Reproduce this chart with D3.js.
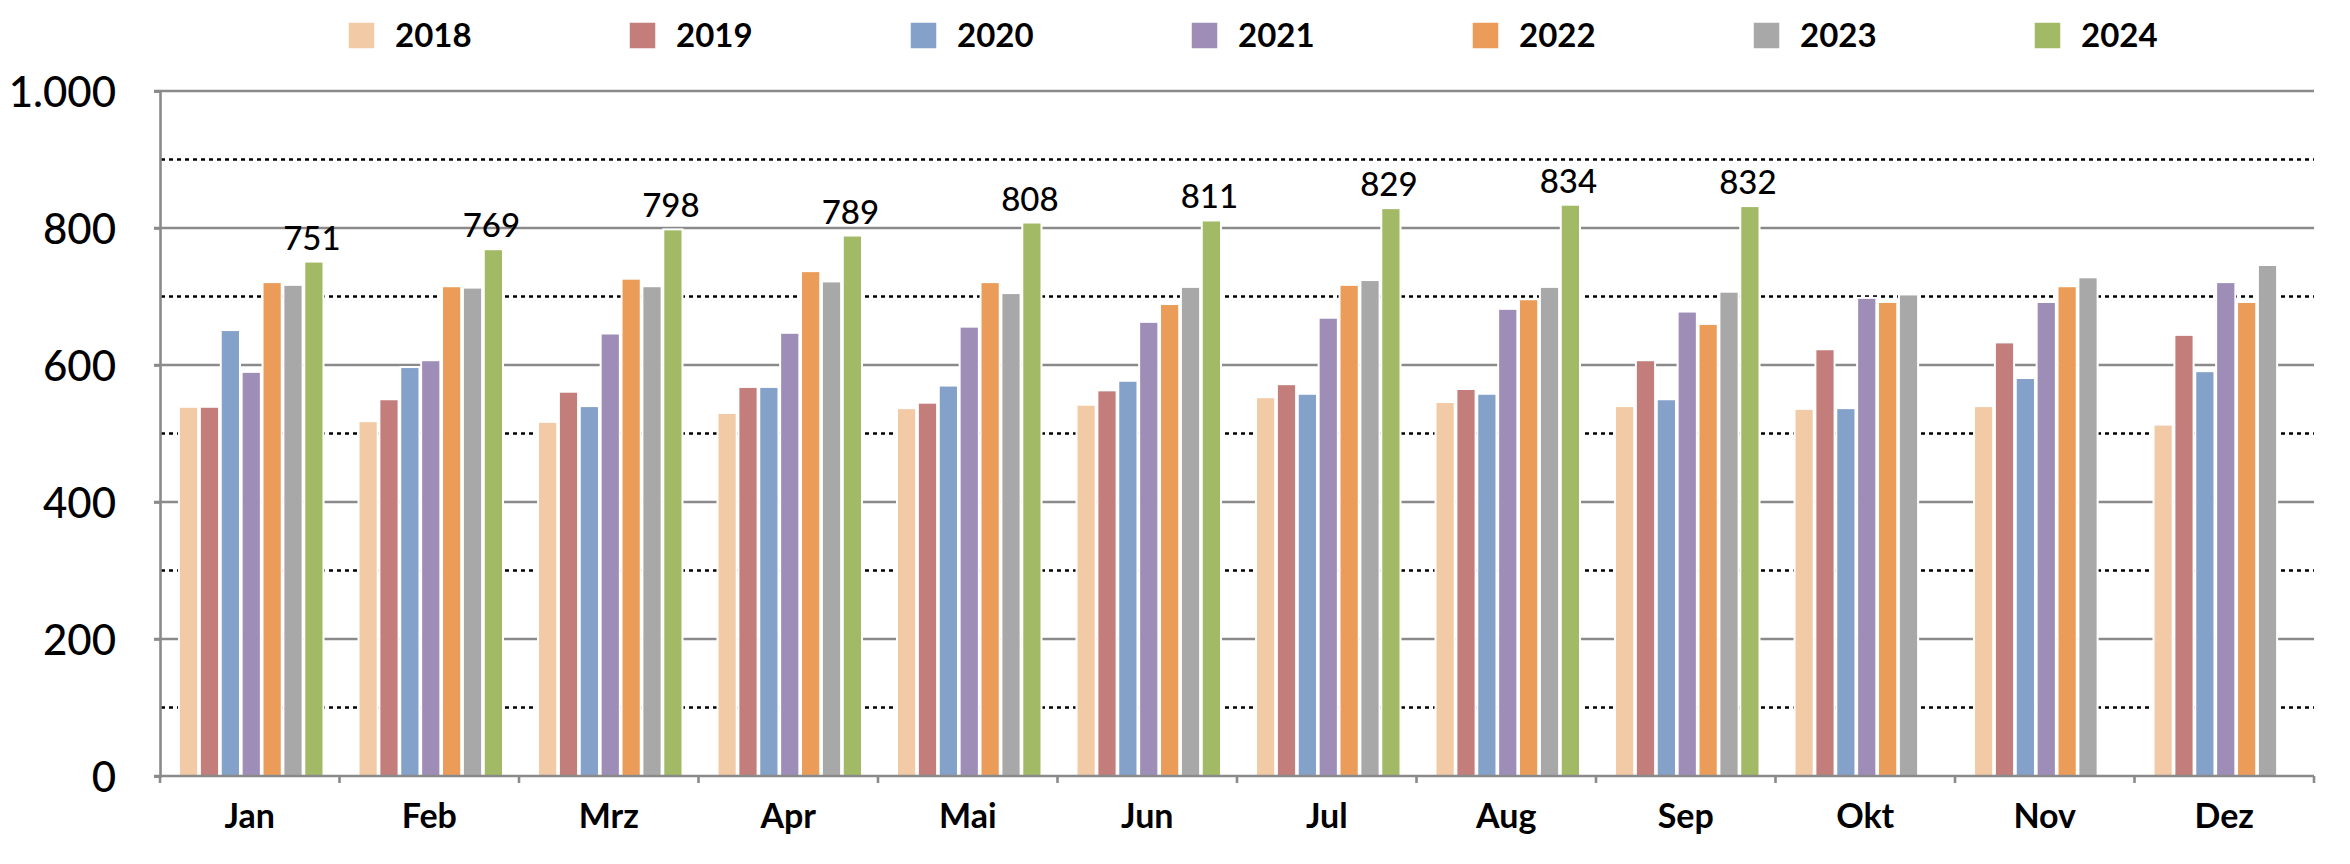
<!DOCTYPE html>
<html>
<head>
<meta charset="utf-8">
<script src="https://cdn.jsdelivr.net/npm/d3@7"></script>
<style>
  body { margin: 0; background: #fff; }
  text { font-family: Lato, "Open Sans", sans-serif; fill: #000; }
</style>
</head>
<body>
<script>
// monthly values per year (2024 only up to Sep)
const months = ["Jan", "Feb", "Mrz", "Apr", "Mai", "Jun", "Jul", "Aug", "Sep", "Okt", "Nov", "Dez"];
const years = ["2018", "2019", "2020", "2021", "2022", "2023", "2024"];

const v2018 = [539, 518, 517, 530, 537, 542, 553, 546, 540, 536, 540, 513];
const v2019 = [539, 550, 561, 568, 545, 563, 572, 565, 607, 623, 633, 644];
const v2020 = [651, 597, 540, 568, 570, 577, 558, 558, 550, 537, 581, 591];
const v2021 = [590, 607, 646, 647, 656, 663, 669, 682, 678, 698, 692, 721];
const v2022 = [721, 715, 726, 737, 721, 689, 717, 696, 660, 692, 715, 692];
const v2023 = [717, 713, 715, 722, 705, 714, 724, 714, 707, 703, 728, 746];
const v2024 = [751, 769, 798, 789, 808, 811, 829, 834, 832, null, null, null];

const yTicks = [0, 200, 400, 600, 800, 1000];
const yMinor = [100, 300, 500, 700, 900];

const series = [v2018, v2019, v2020, v2021, v2022, v2023, v2024];
const colors = ["#F3CAA6", "#C37E7B", "#84A1C9", "#9E8DB7", "#EA9C58", "#A8A8A8", "#A2BA65"];

const W = 2350, H = 864;
const svg = d3.select("body").append("svg")
  .attr("width", W)
  .attr("height", H);

const x0 = d3.scaleBand().domain(months).range([160, 2314]);
const x1 = d3.scaleBand().domain(years).range([19, x0.bandwidth() - 16]).paddingInner(0.08);
const y = d3.scaleLinear().domain([0, 1000]).range([776, 91]);

const de = d3.formatLocale({ decimal: ",", thousands: ".", grouping: [3], currency: ["", "€"] });
const fmt = de.format(",");

// grid
svg.append("g").selectAll("line")
  .data(yMinor)
  .join("line")
    .attr("x1", 161).attr("x2", 2314)
    .attr("y1", d => y(d)).attr("y2", d => y(d))
    .attr("stroke", "#000")
    .attr("stroke-width", 2.6)
    .attr("stroke-dasharray", "4,4");

svg.append("g").selectAll("line")
  .data(yTicks.filter(d => d > 0))
  .join("line")
    .attr("x1", 154).attr("x2", 2314)
    .attr("y1", d => y(d)).attr("y2", d => y(d))
    .attr("stroke", "#8a8a8a")
    .attr("stroke-width", 2.6);

// left axis
const yAxis = svg.append("g")
  .attr("transform", "translate(160,0)")
  .call(d3.axisLeft(y).tickValues(yTicks).tickFormat(fmt).tickSize(6).tickPadding(38));
yAxis.select(".domain").attr("stroke", "#8a8a8a").attr("stroke-width", 2.6);
yAxis.selectAll(".tick line").attr("stroke", "#8a8a8a").attr("stroke-width", 2.6);
yAxis.selectAll("text")
  .style("font-size", "42px")
  .style("font-weight", 500)
  .attr("dy", "0.36em");

// bars
const groups = svg.append("g").selectAll("g")
  .data(months)
  .join("g")
    .attr("transform", d => `translate(${x0(d)},0)`);

groups.selectAll("rect")
  .data((m, i) => years.map((yr, j) => ({ yr, j, v: series[j][i] })).filter(d => d.v != null))
  .join("rect")
    .attr("x", d => x1(d.yr))
    .attr("width", x1.bandwidth())
    .attr("y", d => y(d.v))
    .attr("height", d => y(0) - y(d.v))
    .attr("fill", d => colors[d.j])
    .attr("stroke", "#fff")
    .attr("stroke-width", 2);

// value labels for 2024
groups.selectAll("text.val")
  .data((m, i) => v2024[i] == null ? [] : [v2024[i]])
  .join("text")
    .attr("class", "val")
    .attr("x", x1("2024") + x1.bandwidth() / 2 - 2)
    .attr("y", d => y(d) - 12)
    .attr("text-anchor", "middle")
    .style("font-size", "33px")
    .style("font-weight", 500)
    .text(d => d);

// bottom axis
svg.append("line")
  .attr("x1", 154).attr("x2", 2314)
  .attr("y1", y(0)).attr("y2", y(0))
  .attr("stroke", "#8a8a8a").attr("stroke-width", 2.6);

svg.append("g").selectAll("line")
  .data(months.map(m => x0(m)).concat([x0.range()[1]]))
  .join("line")
    .attr("x1", d => d).attr("x2", d => d)
    .attr("y1", y(0)).attr("y2", y(0) + 7)
    .attr("stroke", "#8a8a8a").attr("stroke-width", 2.6);

const xAxis = svg.append("g")
  .attr("transform", `translate(0,${y(0)})`)
  .call(d3.axisBottom(x0).tickSize(0).tickPadding(28));
xAxis.select(".domain").remove();
xAxis.selectAll("text")
  .style("font-size", "34px")
  .style("font-weight", "bold");

// legend
const legend = svg.append("g").selectAll("g")
  .data(years)
  .join("g")
    .attr("transform", (d, i) => `translate(${348 + i * 281},22)`);

legend.append("rect")
  .attr("width", 27).attr("height", 27)
  .attr("fill", (d, i) => colors[i])
  .attr("stroke", "#fff").attr("stroke-width", 1.5);

legend.append("text")
  .attr("x", 47).attr("y", 25)
  .style("font-size", "33px")
  .style("font-weight", "bold")
  .text(d => d);
</script>
</body>
</html>
